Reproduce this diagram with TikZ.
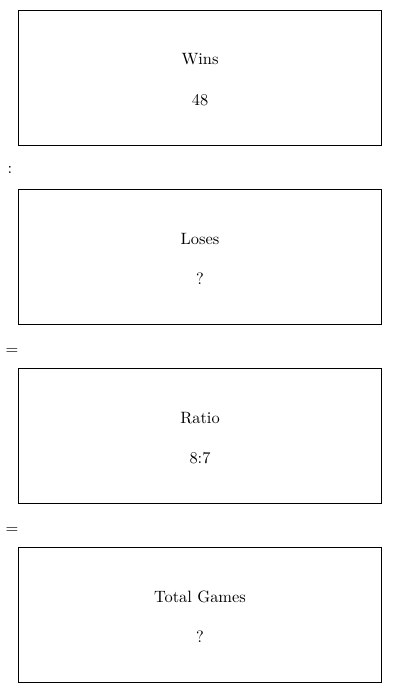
\documentclass[tikz,border=0pt]{standalone}
\usepackage{fontspec}
\newfontfamily\tenrm{lmroman10-regular}[Extension=.otf]
\begin{document}
\begin{tikzpicture}[x=1pt,y=-1pt,
  panel/.style={draw=black,line width=1pt,minimum width=363pt,minimum height=135pt,inner sep=0pt,anchor=north west},
  txt/.style={font=\tenrm\fontsize{16.4}{20}\selectfont,anchor=base,inner sep=0pt},
  sep/.style={font=\tenrm\fontsize{16.4}{20}\selectfont,inner sep=0pt}]
\useasboundingbox (0,0) rectangle (400,693);
\foreach \n/\t/\lab/\val in {b1/10/Wins/48, b2/189/Loses/?, b3/368/Ratio/8:7, b4/547/Total Games/?}{
  \node[panel] (\n) at (18,\t) {};
  \node[txt] (\n l) at (200,\t+55) {\lab};
  \node[txt] (\n v) at (200,\t+95) {\val};
}
\node[sep] (s1) at (10,170) {:};
\node[sep] (s2) at (12,351) {=};
\node[sep] (s3) at (12,530) {=};
\end{tikzpicture}
\end{document}
